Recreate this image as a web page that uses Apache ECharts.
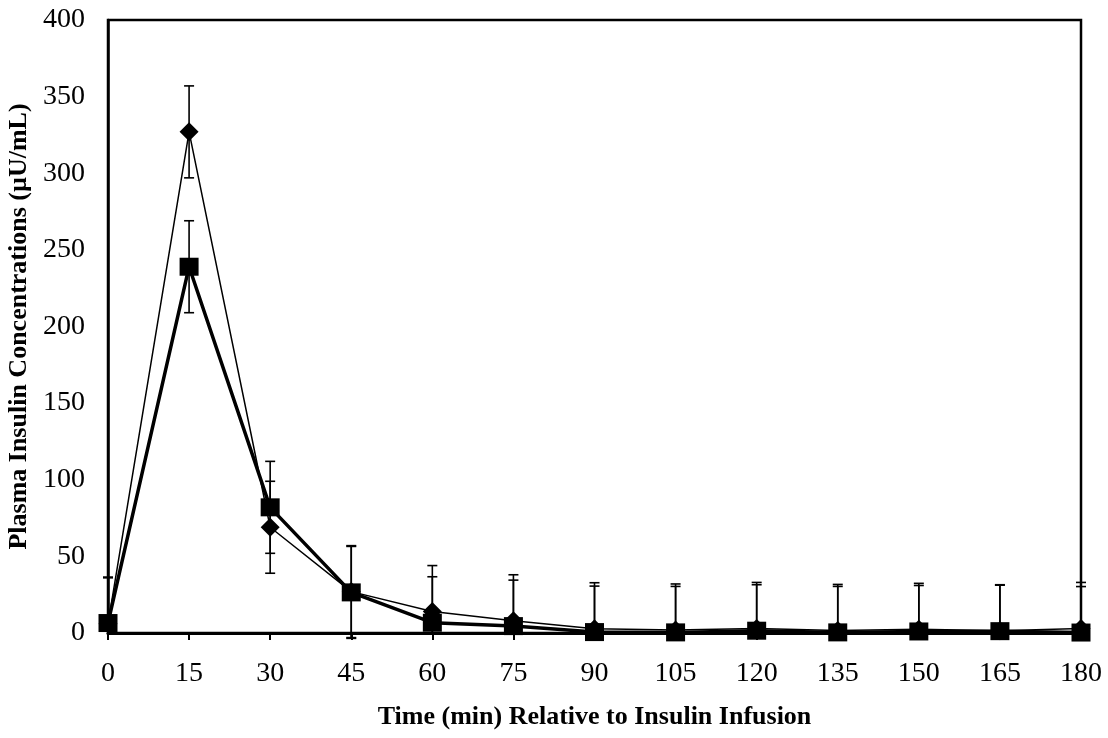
<!DOCTYPE html>
<html>
<head>
<meta charset="utf-8">
<script src="https://cdn.jsdelivr.net/npm/echarts@6/dist/echarts.min.js"></script>
<style>html,body{margin:0;padding:0;background:#fff}#c{width:1108px;height:738px}</style>
</head>
<body>
<div id="c"></div>
<script>
var times = [0, 15, 30, 45, 60, 75, 90, 105, 120, 135, 150, 165, 180];
var diamondVals = [6, 327, 69, 27, 14, 8, 2.8, 2, 3, 1.7, 2.4, 1.5, 3];
var squareVals  = [6.5, 239, 82, 26.5, 6.7, 4.5, 0.6, 0.4, 1.5, 0.4, 1, 1.2, 0.3];
var diamondErr  = [30, 30, 30, 30, 30, 30, 30, 30, 30, 30, 30, 30, 30];
var squareErr   = [30, 30, 30, 30, 30, 30, 30, 30, 30, 30, 30, 30, 30];
var yTicks = [0, 50, 100, 150, 200, 250, 300, 350, 400];

var font = '"Liberation Serif", "Times New Roman", serif';

function pairs(vals) { return times.map(function (t, i) { return [t, vals[i]]; }); }
function errData(vals, errs) { return times.map(function (t, i) { return [t, vals[i], vals[i] + errs[i], vals[i] - errs[i]]; }); }

function errRender(params, api) {
  var x = api.value(0);
  var hi = api.coord([x, api.value(2)]);
  var mid = api.coord([x, api.value(1)]);
  var lo = api.coord([x, api.value(3)]);
  var bottom = params.coordSys.y + params.coordSys.height;
  var w = 5;
  var st = { stroke: '#000', lineWidth: 1.6 };
  var children = [
    { type: 'line', shape: { x1: hi[0], y1: hi[1], x2: mid[0], y2: mid[1] }, style: st },
    { type: 'line', shape: { x1: hi[0] - w, y1: hi[1], x2: hi[0] + w, y2: hi[1] }, style: st }
  ];
  var loY = lo[1];
  if (loY <= bottom + 6) {
    children.push({ type: 'line', shape: { x1: mid[0], y1: mid[1], x2: mid[0], y2: loY }, style: st });
    children.push({ type: 'line', shape: { x1: lo[0] - w, y1: loY, x2: lo[0] + w, y2: loY }, style: st });
  } else {
    children.push({ type: 'line', shape: { x1: mid[0], y1: mid[1], x2: mid[0], y2: bottom }, style: st });
  }
  return { type: 'group', children: children };
}

var chart = echarts.init(document.getElementById('c'), null, { renderer: 'canvas' });
chart.setOption({
  animation: false,
  backgroundColor: '#fff',
  grid: { left: 108, right: 27, top: 20, bottom: 105, containLabel: false, outerBoundsMode: 'none',
    show: true, borderColor: '#000', borderWidth: 2.5, backgroundColor: 'transparent' },
  xAxis: {
    type: 'value', min: 0, max: 180, interval: 15,
    name: 'Time (min) Relative to Insulin Infusion',
    nameLocation: 'middle', nameGap: 71,
    nameTextStyle: { fontFamily: font, fontSize: 26, fontWeight: 'bold', color: '#000' },
    axisLine: { show: true, onZero: false, lineStyle: { color: '#000', width: 3 } },
    axisTick: { show: true, inside: false, length: 7, lineStyle: { color: '#000', width: 2 } },
    axisLabel: { fontFamily: font, fontSize: 28, color: '#000', margin: 27 },
    splitLine: { show: false }
  },
  yAxis: {
    type: 'value', min: 0, max: 400, interval: 50,
    name: 'Plasma Insulin Concentrations (µU/mL)',
    nameLocation: 'middle', nameGap: 71,
    nameTextStyle: { fontFamily: font, fontSize: 26, fontWeight: 'bold', color: '#000' },
    axisLine: { show: true, lineStyle: { color: '#000', width: 2.5 } },
    axisTick: { show: false },
    axisLabel: { fontFamily: font, fontSize: 28, color: '#000', margin: 23,
      formatter: function (v) { return yTicks.indexOf(v) >= 0 ? String(v) : ''; } },
    splitLine: { show: false }
  },
  series: [
    { type: 'custom', renderItem: errRender, data: errData(diamondVals, diamondErr), clip: false, z: 1, encode: { x: 0, y: [1, 2, 3] } },
    { type: 'custom', renderItem: errRender, data: errData(squareVals, squareErr), clip: false, z: 1, encode: { x: 0, y: [1, 2, 3] } },
    { type: 'line', data: pairs(diamondVals), symbol: 'diamond', symbolSize: [19, 19],
      lineStyle: { color: '#000', width: 1.5 }, itemStyle: { color: '#000' }, z: 2 },
    { type: 'line', data: pairs(squareVals), symbol: 'rect', symbolSize: [19, 18],
      lineStyle: { color: '#000', width: 3.5 }, itemStyle: { color: '#000' }, z: 3 }
  ]
});
</script>
</body>
</html>
